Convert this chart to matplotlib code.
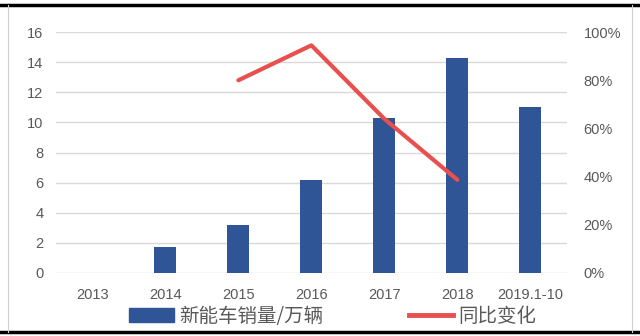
import matplotlib
matplotlib.use("Agg")
import matplotlib.pyplot as plt
from matplotlib.lines import Line2D
from matplotlib.patches import Patch

plt.rcParams["font.family"] = ["Liberation Sans", "Noto Sans CJK SC", "DejaVu Sans"]

# data
categories = ["2013", "2014", "2015", "2016", "2017", "2018", "2019.1-10"]
sales = [0.03, 1.75, 3.2, 6.2, 10.3, 14.25, 11.0]
yoy_cats = ["2015", "2016", "2017", "2018"]
yoy_pct = [80, 94.5, 64, 38.7]
left_ticks = [0, 2, 4, 6, 8, 10, 12, 14, 16]
right_ticks = [0, 20, 40, 60, 80, 100]

bar_color = "#2F5597"
line_color = "#E8504F"
text_color = "#595959"

fig = plt.figure(figsize=(6.4, 3.36), dpi=100)
ax = fig.add_axes([0.0875, 0.1875, 0.798, 0.717])
ax2 = ax.twinx()

x = list(range(len(categories)))
ax.bar(x, sales, width=0.3, color=bar_color, zorder=3)
ax.set_ylim(0, 16)
ax.set_yticks(left_ticks)
ax.set_xlim(-0.5, len(categories) - 0.5)
ax.set_xticks(x)
ax.set_xticklabels(categories)
ax.grid(axis="y", color="#D9D9D9", lw=1, zorder=0)
ax.set_axisbelow(True)

line_x = [categories.index(c) for c in yoy_cats]
ax2.plot(line_x, yoy_pct, color=line_color, lw=3, solid_capstyle="round", zorder=4)
ax2.set_ylim(0, 100)
ax2.set_yticks(right_ticks)
ax2.set_yticklabels([f"{t}%" for t in right_ticks])

for a in (ax, ax2):
    for s in a.spines.values():
        s.set_visible(False)
    a.tick_params(length=0, colors=text_color, labelsize=10.5)
ax.tick_params(axis="y", pad=9)
ax.tick_params(axis="x", pad=11)
ax2.tick_params(axis="y", pad=12)

handles = [Patch(color=bar_color), Line2D([0], [0], color=line_color, lw=3.5)]
fig.legend(handles, ["新能车销量/万辆", "同比变化"], loc="center",
           bbox_to_anchor=(0.52, 0.058), ncol=2, frameon=False,
           prop={"family": ["Noto Sans CJK SC"], "size": 14},
           labelcolor=text_color, handlelength=2.3, handleheight=0.75,
           handletextpad=0.25, columnspacing=4.4)

# frame: thin grey sides, thick black top and bottom
fig.add_artist(Line2D([0, 1], [0.985, 0.985], color="black", lw=2.5, transform=fig.transFigure))
fig.add_artist(Line2D([0, 1], [0.012, 0.012], color="black", lw=2.5, transform=fig.transFigure))
fig.add_artist(Line2D([0.013, 0.013], [0.012, 0.985], color="#D0D0D0", lw=0.8, transform=fig.transFigure))
fig.add_artist(Line2D([0.988, 0.988], [0.012, 0.985], color="#D0D0D0", lw=0.8, transform=fig.transFigure))

fig.savefig("out.png", dpi=100)
plt.close(fig)
